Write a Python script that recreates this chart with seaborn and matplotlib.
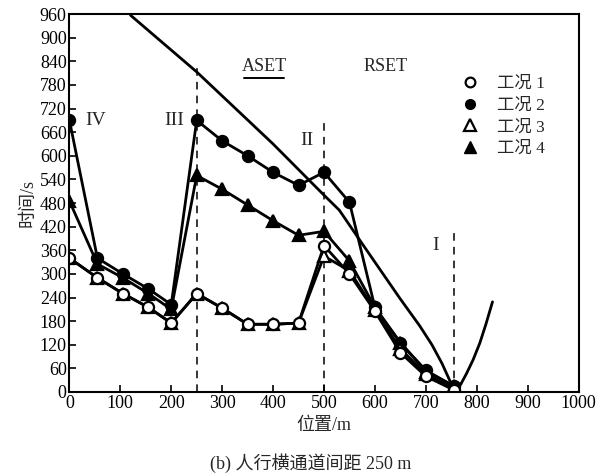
import numpy as np
import pandas as pd
import matplotlib
matplotlib.use("Agg")
import matplotlib.pyplot as plt
from matplotlib.lines import Line2D
import seaborn as sns

# 数据
pos = [0, 55, 105, 155, 200, 250, 300, 350, 400, 450, 500, 550, 600, 650, 700, 755]
case1 = [340, 290, 250, 215, 175, 250, 213, 172, 172, 175, 372, 300, 205, 100, 40, 5]
case2 = [690, 340, 300, 262, 222, 690, 638, 600, 558, 525, 558, 482, 215, 125, 55, 15]
case3 = [340, 290, 250, 215, 175, 250, 213, 172, 172, 175, 345, 308, 208, 110, 45, 8]
case4 = [485, 325, 290, 250, 210, 550, 515, 475, 435, 398, 408, 333, 215, 125, 52, 15]

curve_x = [120, 250, 400, 500, 530, 577, 649, 688, 712, 732, 746, 755, 768, 780, 793, 806, 818, 831]
curve_y = [957, 813, 630, 500, 462, 373, 238, 168, 120, 72, 32, 5, 18, 47, 82, 124, 172, 229]

vlines_x = [250, 500, 755]
vlines_top = [837, 690, 403]

roman = ["IV", "III", "II", "I"]
roman_x = [52, 205, 466, 720]
roman_y = [690, 690, 640, 372]

sns.set_theme(style="ticks")
plt.rcParams["font.family"] = ["Liberation Serif", "Noto Sans CJK SC"]
plt.rcParams["xtick.direction"] = "in"
plt.rcParams["ytick.direction"] = "in"
plt.rcParams["axes.edgecolor"] = "black"
plt.rcParams["axes.linewidth"] = 1.5

fig = plt.figure(figsize=(6.09, 4.76), dpi=100)
ax = fig.add_axes([0.114, 0.1765, 0.836, 0.794])

lw = 2.0
ms = 8
sns.lineplot(x=curve_x, y=curve_y, color="black", lw=lw, sort=False, ax=ax)

for xv, top in zip(vlines_x, vlines_top):
    ax.plot([xv, xv], [0, top], color="black", lw=1.1, ls=(0, (5, 4)))

styles = [
    (case2, "o", "black"),
    (case4, "^", "black"),
    (case3, "^", "white"),
    (case1, "o", "white"),
]
for vals, mk, fc in styles:
    sns.lineplot(x=pos, y=vals, color="black", lw=lw, marker=mk,
                 markersize=ms, markerfacecolor=fc, markeredgecolor="black",
                 markeredgewidth=1.6, ax=ax)

for t, xv, yv in zip(roman, roman_x, roman_y):
    ax.text(xv, yv, t, fontsize=14, ha="center", va="center")

ax.text(382, 826, "ASET", fontsize=13, ha="center", va="center")
ax.plot([343, 421], [798, 798], color="black", lw=1.4)
ax.text(620, 826, "RSET", fontsize=13, ha="center", va="center")

handles = [
    Line2D([], [], ls="none", marker="o", mfc="white", mec="black", mew=1.6, ms=7),
    Line2D([], [], ls="none", marker="o", mfc="black", mec="black", ms=7),
    Line2D([], [], ls="none", marker="^", mfc="white", mec="black", mew=1.6, ms=8),
    Line2D([], [], ls="none", marker="^", mfc="black", mec="black", ms=8),
]
labels = ["工况 1", "工况 2", "工况 3", "工况 4"]
ax.legend(handles, labels, loc="upper left", bbox_to_anchor=(0.74, 0.855),
          frameon=False, fontsize=12.5, handletextpad=0.5, labelspacing=0.32,
          borderaxespad=0)

ax.set_xlim(0, 1000)
ax.set_ylim(0, 960)
ax.set_xticks(np.arange(0, 1001, 100))
ax.set_yticks(np.arange(0, 961, 60))
ax.tick_params(labelsize=13, length=5, width=1.2, colors="black", pad=2)
ax.set_xlabel("位置/m", fontsize=13, labelpad=4)
ax.set_ylabel("时间/s", fontsize=13, labelpad=2)
fig.text(0.51, 0.027, "(b) 人行横通道间距 250 m", fontsize=13, ha="center", va="center")

plt.savefig("out.png", dpi=100)
